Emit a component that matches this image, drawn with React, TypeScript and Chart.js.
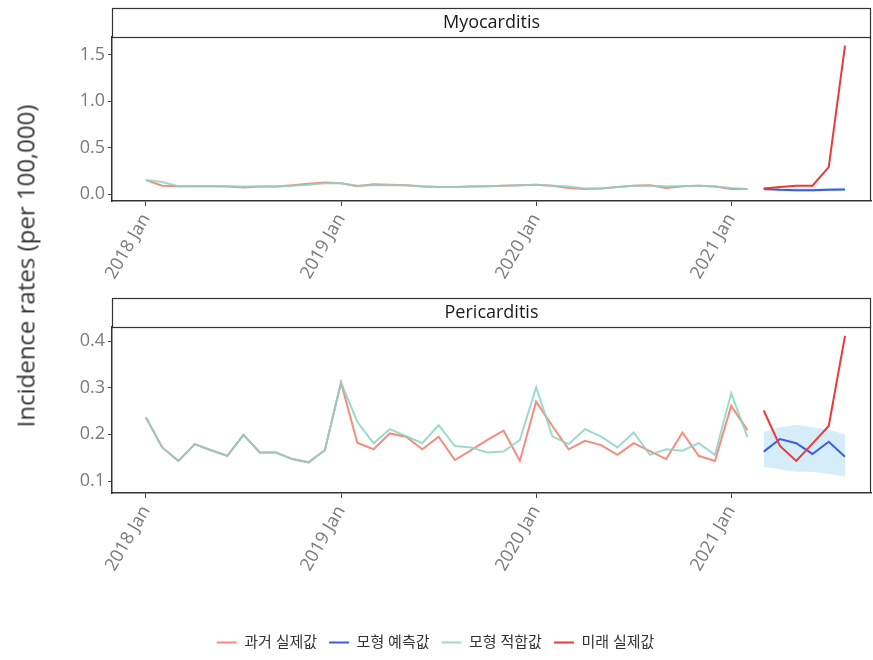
import React, { useEffect, useRef } from 'react';
import { Chart, registerables } from 'chart.js';

Chart.register(...registerables);

// ---------- data ----------
const pastMonths = [0, 1, 2, 3, 4, 5, 6, 7, 8, 9, 10, 11, 12, 13, 14, 15, 16, 17, 18, 19, 20, 21, 22, 23, 24, 25, 26, 27, 28, 29, 30, 31, 32, 33, 34, 35, 36, 37];
const futureMonths = [38, 39, 40, 41, 42, 43];

const xTickMonths = [0, 12, 24, 36];
const xTickLabels = ['2018 Jan', '2019 Jan', '2020 Jan', '2021 Jan'];

const myoYTicks = [0, 0.5, 1.0, 1.5];
const periYTicks = [0.1, 0.2, 0.3, 0.4];

const seriesLabels = ['과거 실제값', '모형 예측값', '모형 적합값', '미래 실제값'];

// Myocarditis
const myoPastActual = [0.15, 0.09, 0.085, 0.085, 0.085, 0.08, 0.07, 0.08, 0.08, 0.095, 0.11, 0.125, 0.115, 0.085, 0.105, 0.1, 0.095, 0.08, 0.075, 0.075, 0.08, 0.085, 0.09, 0.095, 0.1, 0.09, 0.065, 0.055, 0.06, 0.075, 0.09, 0.095, 0.065, 0.085, 0.09, 0.08, 0.055, 0.055];
const myoFitted = [0.15, 0.13, 0.085, 0.085, 0.085, 0.085, 0.08, 0.08, 0.08, 0.09, 0.1, 0.115, 0.115, 0.09, 0.095, 0.095, 0.095, 0.085, 0.075, 0.075, 0.08, 0.085, 0.09, 0.095, 0.1, 0.09, 0.08, 0.06, 0.06, 0.075, 0.09, 0.09, 0.085, 0.085, 0.09, 0.08, 0.065, 0.055];
const myoFutureActual = [0.06, 0.075, 0.09, 0.09, 0.29, 1.6];
const myoPredicted = [0.055, 0.045, 0.04, 0.04, 0.045, 0.05];
const myoPredLower = [0.035, 0.03, 0.025, 0.025, 0.03, 0.03];
const myoPredUpper = [0.075, 0.065, 0.06, 0.06, 0.065, 0.07];

// Pericarditis
const periPastActual = [0.236, 0.172, 0.143, 0.179, 0.166, 0.154, 0.199, 0.161, 0.161, 0.147, 0.14, 0.166, 0.311, 0.182, 0.168, 0.202, 0.195, 0.168, 0.195, 0.145, 0.166, 0.188, 0.208, 0.143, 0.27, 0.218, 0.168, 0.186, 0.177, 0.156, 0.181, 0.164, 0.147, 0.204, 0.154, 0.143, 0.261, 0.209];
const periFitted = [0.236, 0.172, 0.143, 0.179, 0.166, 0.154, 0.199, 0.161, 0.161, 0.147, 0.14, 0.166, 0.311, 0.227, 0.181, 0.211, 0.196, 0.181, 0.22, 0.175, 0.172, 0.161, 0.163, 0.188, 0.301, 0.196, 0.179, 0.211, 0.195, 0.172, 0.204, 0.156, 0.168, 0.165, 0.181, 0.156, 0.288, 0.194];
const periFutureActual = [0.251, 0.175, 0.143, 0.18, 0.218, 0.411];
const periPredicted = [0.163, 0.19, 0.181, 0.158, 0.184, 0.152];
const periPredLower = [0.13, 0.125, 0.12, 0.12, 0.115, 0.11];
const periPredUpper = [0.205, 0.215, 0.22, 0.215, 0.21, 0.2];

// ---------- styling ----------
const FONT = "'Open Sans', 'Noto Sans CJK KR', sans-serif";
const COL_PAST = 'rgba(245,120,102,0.85)';
const COL_PRED = '#3D5CE0';
const COL_FIT = 'rgba(140,212,198,0.85)';
const COL_FUT = '#EB3A37';
const COL_BAND = 'rgba(190,226,246,0.65)';

const toXY = (xs: number[], ys: number[]) => xs.map((x, i) => ({ x, y: ys[i] }));

function buildDatasets(past: number[], fit: number[], fut: number[], pred: number[], lo: number[], hi: number[]) {
  const common = { pointRadius: 0, pointHoverRadius: 0, tension: 0, fill: false, borderWidth: 2 };
  return [
    { ...common, label: seriesLabels[0], data: toXY(pastMonths, past), borderColor: COL_PAST, backgroundColor: COL_PAST, order: 4 },
    { ...common, label: seriesLabels[1], data: toXY(futureMonths, pred), borderColor: COL_PRED, backgroundColor: COL_PRED, order: 2 },
    { ...common, label: seriesLabels[2], data: toXY(pastMonths, fit), borderColor: COL_FIT, backgroundColor: COL_FIT, order: 3 },
    { ...common, label: seriesLabels[3], data: toXY(futureMonths, fut), borderColor: COL_FUT, backgroundColor: COL_FUT, order: 1 },
    { ...common, label: '', data: toXY(futureMonths, lo), borderWidth: 0, borderColor: 'rgba(0,0,0,0)', backgroundColor: COL_BAND, order: 6 },
    { ...common, label: '', data: toXY(futureMonths, hi), borderWidth: 0, borderColor: 'rgba(0,0,0,0)', backgroundColor: COL_BAND, fill: '-1', order: 5 },
  ];
}

const stripPlugin = {
  id: 'stripPlugin',
  afterDraw(chart: any, _args: any, opts: any) {
    const { ctx, chartArea } = chart;
    const h = 29;
    ctx.save();
    ctx.fillStyle = '#ffffff';
    ctx.fillRect(chartArea.left, chartArea.top - h, chartArea.right - chartArea.left, h);
    ctx.strokeStyle = '#333333';
    ctx.lineWidth = 1.2;
    ctx.strokeRect(chartArea.left + 0.5, chartArea.top - h + 0.5, chartArea.right - chartArea.left - 1, h);
    ctx.beginPath();
    ctx.moveTo(chartArea.right - 0.5, chartArea.top);
    ctx.lineTo(chartArea.right - 0.5, chartArea.bottom);
    ctx.stroke();
    ctx.fillStyle = '#1a1a1a';
    ctx.font = `18px ${FONT}`;
    ctx.textAlign = 'center';
    ctx.textBaseline = 'middle';
    ctx.fillText(opts.title, (chartArea.left + chartArea.right) / 2, chartArea.top - h / 2);
    ctx.restore();
  },
};

function makeConfig(opts: {
  datasets: any[];
  yMin: number;
  yMax: number;
  yTicks: number[];
  title: string;
  legend: boolean;
  padTop: number;
  xHeight: number;
}): any {
  return {
    type: 'line',
    data: { datasets: opts.datasets },
    plugins: [stripPlugin],
    options: {
      animation: false,
      responsive: false,
      devicePixelRatio: 1,
      layout: { padding: { left: 0, right: 2, top: opts.padTop, bottom: 0 } },
      plugins: {
        stripPlugin: { title: opts.title },
        tooltip: { enabled: false },
        legend: {
          display: opts.legend,
          position: 'bottom',
          labels: {
            usePointStyle: true,
            pointStyle: 'line',
            pointStyleWidth: 20,
            boxHeight: 15,
            padding: 12,
            color: '#333333',
            font: { family: FONT, size: 15 },
            filter: (item: any) => item.text !== '',
            sort: (a: any, b: any) => a.datasetIndex - b.datasetIndex,
          },
        },
      },
      scales: {
        x: {
          type: 'linear',
          min: -2.09,
          max: 44.6,
          afterBuildTicks: (scale: any) => {
            scale.ticks = xTickMonths.map((v) => ({ value: v }));
          },
          afterFit: (scale: any) => {
            scale.height = opts.xHeight;
          },
          ticks: {
            autoSkip: false,
            minRotation: 60,
            maxRotation: 60,
            padding: 4,
            color: '#7a7a7a',
            font: { family: FONT, size: 18 },
            callback: (v: any) => {
              const i = xTickMonths.indexOf(v);
              return i >= 0 ? xTickLabels[i] : '';
            },
          },
          grid: { display: true, drawOnChartArea: false, drawTicks: true, tickLength: 5, color: '#444444', lineWidth: 1 },
          border: { display: true, color: '#333333', width: 1.5 },
        },
        y: {
          type: 'linear',
          min: opts.yMin,
          max: opts.yMax,
          afterBuildTicks: (scale: any) => {
            scale.ticks = opts.yTicks.map((v) => ({ value: v }));
          },
          afterFit: (scale: any) => {
            scale.width = 112;
          },
          ticks: {
            padding: 3,
            color: '#7a7a7a',
            font: { family: FONT, size: 18 },
            callback: (v: any) => Number(v).toFixed(1),
          },
          grid: { display: true, drawOnChartArea: false, drawTicks: true, tickLength: 4, color: '#444444', lineWidth: 1 },
          border: { display: true, color: '#333333', width: 1.5 },
        },
      },
    },
  };
}

export default function App() {
  const topRef = useRef<HTMLCanvasElement | null>(null);
  const botRef = useRef<HTMLCanvasElement | null>(null);

  useEffect(() => {
    document.body.style.margin = '0';
    const top = new Chart(
      topRef.current as HTMLCanvasElement,
      makeConfig({
        datasets: buildDatasets(myoPastActual, myoFitted, myoFutureActual, myoPredicted, myoPredLower, myoPredUpper),
        yMin: -0.075,
        yMax: 1.692,
        yTicks: myoYTicks,
        title: 'Myocarditis',
        legend: false,
        padTop: 37,
        xHeight: 94,
      })
    );
    const bot = new Chart(
      botRef.current as HTMLCanvasElement,
      makeConfig({
        datasets: buildDatasets(periPastActual, periFitted, periFutureActual, periPredicted, periPredLower, periPredUpper),
        yMin: 0.0743,
        yMax: 0.43,
        yTicks: periYTicks,
        title: 'Pericarditis',
        legend: true,
        padTop: 32,
        xHeight: 130,
      })
    );
    return () => {
      top.destroy();
      bot.destroy();
    };
  }, []);

  return (
    <div style={{ position: 'relative', width: 873, height: 660, background: '#ffffff', overflow: 'hidden' }}>
      <canvas ref={topRef} width={873} height={295} style={{ position: 'absolute', left: 0, top: 0, width: 873, height: 295 }} />
      <canvas ref={botRef} width={873} height={365} style={{ position: 'absolute', left: 0, top: 295, width: 873, height: 365 }} />
      <div
        style={{
          position: 'absolute',
          left: 25,
          top: 266,
          transform: 'translate(-50%, -50%) rotate(-90deg)',
          whiteSpace: 'nowrap',
          fontFamily: FONT,
          fontSize: 24,
          color: '#333333',
        }}
      >
        Incidence rates (per 100,000)
      </div>
    </div>
  );
}
